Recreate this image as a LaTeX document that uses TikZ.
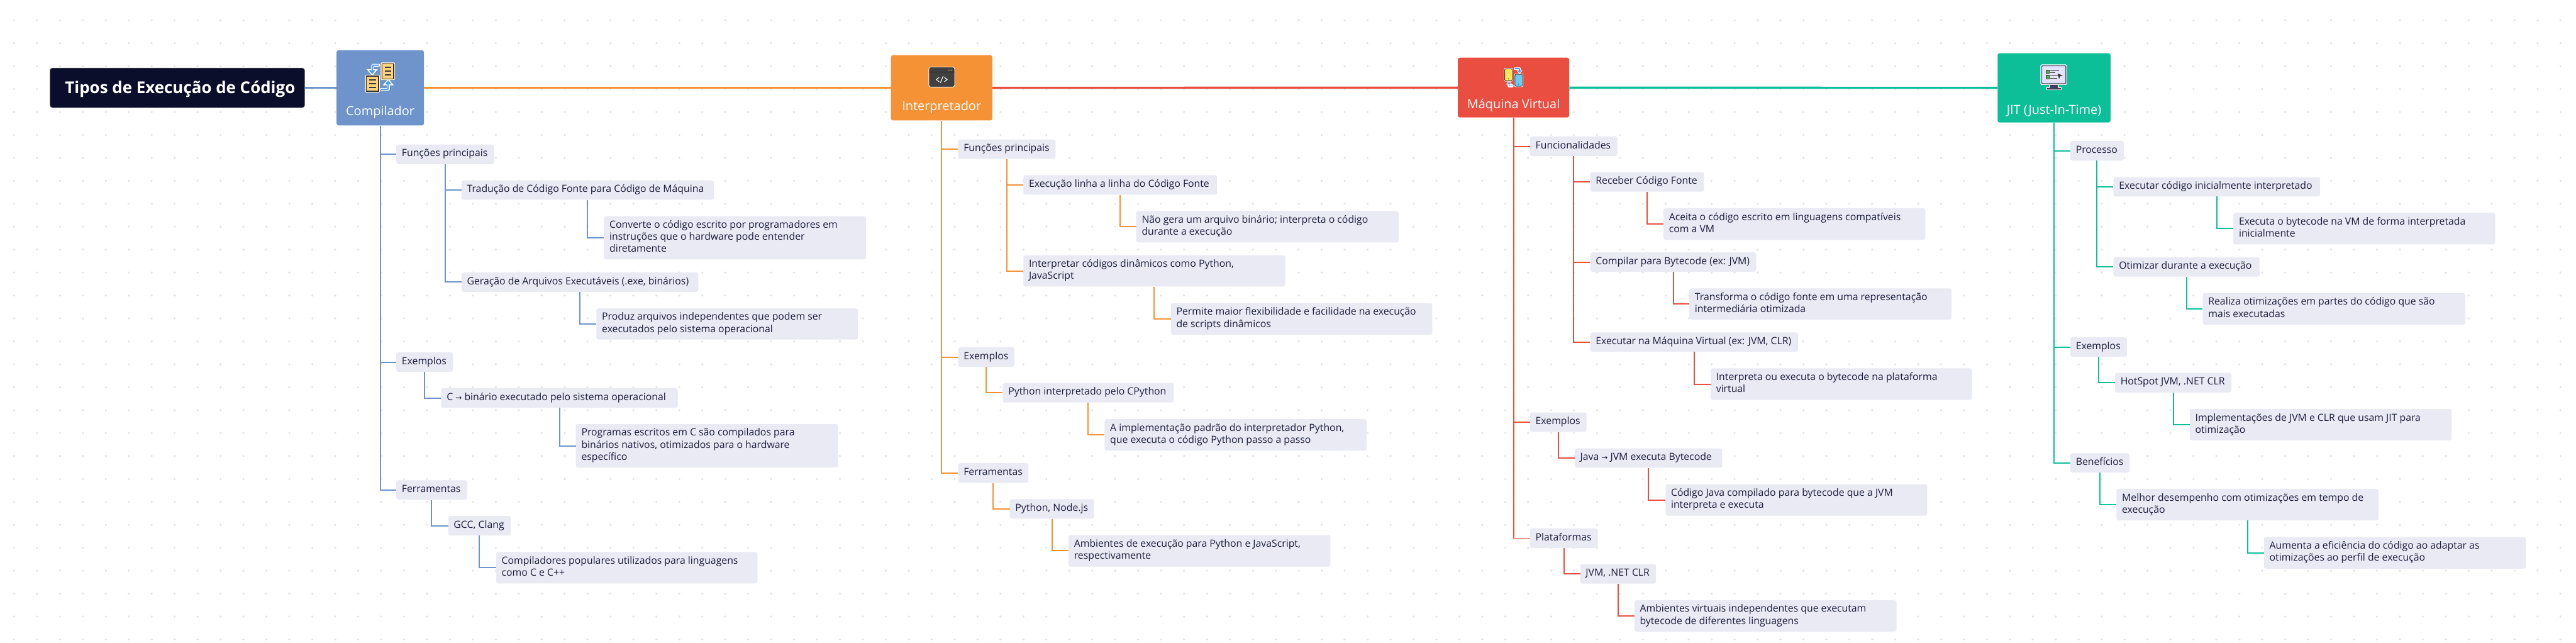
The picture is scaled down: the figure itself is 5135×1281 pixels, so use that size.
\documentclass[tikz,border=0pt]{standalone}
\usepackage{fontspec}
\setmainfont{Open Sans}
\newfontfamily\arrowfont{DejaVu Sans}
\definecolor{bluec}{HTML}{6E94CB}
\definecolor{orangec}{HTML}{F59236}
\definecolor{redc}{HTML}{E94E41}
\definecolor{greenc}{HTML}{0DBF99}
\definecolor{subc}{HTML}{E9EAF4}
\definecolor{inkc}{HTML}{1B1C3A}
\definecolor{rootc}{HTML}{0B0E2A}
\definecolor{dotc}{HTML}{E6E6E6}
\definecolor{docc}{HTML}{FDD27F}
\definecolor{icond}{HTML}{3A3431}
\definecolor{arrowc}{HTML}{4B9BF0}
\tikzset{
  x=1pt,y=-1pt,
  subnode/.style={fill=subc,rounded corners=4pt,inner xsep=11pt,inner ysep=0pt,align=flush left,text=inkc,font=\fontsize{19.8}{24}\selectfont},
  mainnode/.style={rounded corners=4pt,inner sep=0pt,text=white,align=center,font=\fontsize{25}{30}\selectfont},
  rootnode/.style={fill=rootc,draw=black!50,line width=0.8pt,rounded corners=5pt,text=white,inner sep=0pt,font=\fontsize{32.5}{38}\selectfont\bfseries},
  mainlink/.style={line width=4.2pt},
  sublink/.style={line width=2.5pt,line join=miter},
  iconline/.style={line width=1.6pt,icond},
  whiteedge/.style={white,line width=5.5pt,line join=round,line cap=round},
  blueedge/.style={arrowc,line width=2.6pt,line join=round,line cap=round},
}
\newcommand{\boxnode}[6]{%
  \pgfmathsetmacro{\bw}{#3-#2-22}\pgfmathsetmacro{\bh}{#5-#4}%
  \pgfmathsetmacro{\bx}{(#2+#3)/2}\pgfmathsetmacro{\by}{(#4+#5)/2}%
  \node[subnode,text width=\bw pt,minimum height=\bh pt] (#1) at (\bx,\by) {\rule{0pt}{16.5pt}#6\rule[-7.5pt]{0pt}{7.5pt}};}
\newcommand{\arr}{{\arrowfont\fontsize{15}{15}\selectfont →}}
\begin{document}
\begin{tikzpicture}
\path[use as bounding box,fill=white] (0,0) rectangle (5135,1281);
\foreach \i in {0,...,111} \foreach \j in {0,...,27}
  \fill[dotc] ({28+45.73*\i},{40.4+45.7*\j}) circle (2.4pt);

% root and main nodes
\node[rootnode,minimum width=508pt,minimum height=79pt,text depth=9pt,text height=31pt] (root) at (353.5,175) {\hspace*{11pt}Tipos de Execução de Código};
\node[mainnode,fill=bluec,minimum width=174pt,text height=130pt,text depth=20pt] (comp) at (758,175) {Compilador};
\node[mainnode,fill=orangec,minimum width=202pt,text height=110pt,text depth=20pt] (interp) at (1877,175) {Interpretador};
\node[mainnode,fill=redc,minimum width=222pt,text height=101pt,text depth=18pt] (maq) at (3017,174.5) {Máquina Virtual};
\node[mainnode,fill=greenc,minimum width=225pt,text height=122pt,text depth=16pt] (jit) at (4094.5,175) {JIT (Just-In-Time)};

% Compilador branch
\boxnode{c1}{790}{985}{288}{327}{\mbox{Funções principais}}
\boxnode{c11}{920}{1423}{359.5}{398}{Tradução de Código Fonte para Código de Máquina}
\boxnode{c111}{1204}{1726}{431}{517}{Converte o código escrito por programadores em\\instruções que o hardware pode entender\\diretamente}
\boxnode{c12}{920}{1392}{543}{581.5}{Geração de Arquivos Executáveis (.exe, binários)}
\boxnode{c121}{1189}{1710}{614.5}{676.5}{Produz arquivos independentes que podem ser\\executados pelo sistema operacional}
\boxnode{c2}{790}{903}{702}{741}{Exemplos}
\boxnode{c21}{879.5}{1351}{773.5}{812.5}{C \arr{} binário executado pelo sistema operacional}
\boxnode{c211}{1148}{1670.5}{845}{931.5}{Programas escritos em C são compilados para\\binários nativos, otimizados para o hardware\\específico}
\boxnode{c3}{790}{931}{957}{996}{Ferramentas}
\boxnode{c31}{893.5}{1018}{1028}{1067}{\mbox{GCC, Clang}}
\boxnode{c311}{989}{1510}{1100}{1162.5}{Compiladores populares utilizados para linguagens\\como C e C++}

% Interpretador branch
\boxnode{i1}{1910}{2104}{278}{316.5}{\mbox{Funções principais}}
\boxnode{i11}{2040}{2426}{349}{388}{Execução linha a linha do Código Fonte}
\boxnode{i111}{2265}{2788}{420.5}{483}{Não gera um arquivo binário; interpreta o código\\durante a execução}
\boxnode{i12}{2040}{2562}{508.5}{571}{Interpretar códigos dinâmicos como Python,\\JavaScript}
\boxnode{i121}{2334}{2855}{604}{667}{Permite maior flexibilidade e facilidade na execução\\de scripts dinâmicos}
\boxnode{i2}{1910}{2022}{692}{731}{Exemplos}
\boxnode{i21}{1999}{2339.5}{763}{802}{Python interpretado pelo CPython}
\boxnode{i211}{2202}{2724}{835}{898}{A implementação padrão do interpretador Python,\\que executa o código Python passo a passo}
\boxnode{i3}{1910}{2050}{923}{962}{Ferramentas}
\boxnode{i31}{2013}{2181}{994.5}{1033.5}{\mbox{Python, Node.js}}
\boxnode{i311}{2130}{2652}{1066}{1129}{Ambientes de execução para Python e JavaScript,\\respectivamente}

% Maquina Virtual branch
\boxnode{m1}{3050}{3224}{272}{311}{\mbox{Funcionalidades}}
\boxnode{m11}{3170}{3397}{343}{382}{\mbox{Receber Código Fonte}}
\boxnode{m111}{3316}{3838}{415}{478}{Aceita o código escrito em linguagens compatíveis\\com a VM}
\boxnode{m12}{3170}{3501}{503}{541.5}{\mbox{Compilar para Bytecode (ex: JVM)}}
\boxnode{m121}{3367.5}{3890}{574.5}{637}{Transforma o código fonte em uma representação\\intermediária otimizada}
\boxnode{m13}{3170}{3584}{662.5}{701}{\mbox{Executar na Máquina Virtual (ex: JVM, CLR)}}
\boxnode{m131}{3410}{3931}{734}{797}{Interpreta ou executa o bytecode na plataforma\\virtual}
\boxnode{m2}{3050}{3162.5}{822}{860.5}{Exemplos}
\boxnode{m21}{3139}{3433}{893.5}{932}{\mbox{Java \arr{} JVM executa Bytecode}}
\boxnode{m211}{3320}{3841.5}{965}{1027.5}{Código Java compilado para bytecode que a JVM\\interpreta e executa}
\boxnode{m3}{3050}{3185}{1053}{1092}{Plataformas}
\boxnode{m31}{3150}{3301}{1124}{1163}{\mbox{JVM, .NET CLR}}
\boxnode{m311}{3258}{3780.5}{1196}{1258.5}{Ambientes virtuais independentes que executam\\bytecode de diferentes linguagens}

% JIT branch
\boxnode{j1}{4127}{4233.5}{281}{320}{Processo}
\boxnode{j11}{4213}{4625}{353}{391.5}{\mbox{Executar código inicialmente interpretado}}
\boxnode{j111}{4452}{4974}{424}{487}{Executa o bytecode na VM de forma interpretada\\inicialmente}
\boxnode{j12}{4213}{4504}{512.5}{551}{\mbox{Otimizar durante a execução}}
\boxnode{j121}{4391}{4914}{584}{647}{Realiza otimizações em partes do código que são\\mais executadas}
\boxnode{j2}{4127}{4240}{672}{711}{Exemplos}
\boxnode{j21}{4216}{4448}{743}{782}{\mbox{HotSpot JVM, .NET CLR}}
\boxnode{j211}{4365}{4887}{815}{877.5}{Implementações de JVM e CLR que usam JIT para\\otimização}
\boxnode{j3}{4127}{4245}{903}{941.5}{Benefícios}
\boxnode{j31}{4219}{4741}{974}{1037}{Melhor desempenho com otimizações em tempo de\\execução}
\boxnode{j311}{4513}{5035}{1070}{1133}{Aumenta a eficiência do código ao adaptar as\\otimizações ao perfil de execução}

% main connectors
\draw[mainlink,bluec] (root.east) -- (comp.west);
\draw[mainlink,orangec] (comp.east) -- (interp.west);
\draw[mainlink,redc] (interp.east) -- (maq.west);
\draw[mainlink,greenc] (maq.east) -- (jit.west);

% sub connectors
\foreach \p/\c in {comp/c1,comp/c2,comp/c3,c1/c11,c1/c12,c11/c111,c12/c121,c2/c21,c21/c211,c3/c31,c31/c311}
  \draw[sublink,bluec] (\p.south) |- (\c.west);
\foreach \p/\c in {interp/i1,interp/i2,interp/i3,i1/i11,i1/i12,i11/i111,i12/i121,i2/i21,i21/i211,i3/i31,i31/i311}
  \draw[sublink,orangec] (\p.south) |- (\c.west);
\foreach \p/\c in {maq/m1,maq/m2,maq/m3,m1/m11,m1/m12,m1/m13,m11/m111,m12/m121,m13/m131,m2/m21,m21/m211,m3/m31,m31/m311}
  \draw[sublink,redc] (\p.south) |- (\c.west);
\foreach \p/\c in {jit/j1,jit/j2,jit/j3,j1/j11,j1/j12,j11/j111,j12/j121,j2/j21,j21/j211,j3/j31,j31/j311}
  \draw[sublink,greenc] (\p.south) |- (\c.west);

% Compilador icon
\draw[whiteedge] (755,130) -- (743,130) -- (742,141);
\fill[white] (731,138) -- (753,138) -- (742,151) -- cycle;
\draw[blueedge] (755,130) -- (743,130) -- (742,141);
\fill[arrowc] (735.5,140) -- (748.5,140) -- (742,147.5) -- cycle;
\draw[whiteedge] (760,178) -- (774,178) -- (774,167);
\fill[white] (763,170) -- (785,170) -- (774,157) -- cycle;
\draw[blueedge] (760,178) -- (774,178) -- (774,167);
\fill[arrowc] (767.5,168) -- (780.5,168) -- (774,160.5) -- cycle;
\filldraw[fill=docc,draw=white,line width=1pt,rounded corners=1.5pt] (759.5,125) rectangle (787,159);
\draw[icond,line width=1.8pt] (761.5,127) rectangle (785,157);
\filldraw[fill=docc,draw=white,line width=1pt,rounded corners=1.5pt] (728.5,149.5) rectangle (756.5,184);
\draw[icond,line width=1.8pt] (730.5,151.5) rectangle (754.5,182);
\foreach \yy in {134,141.7,149.3} \draw[iconline] (766.7,\yy) -- (780,\yy);
\foreach \yy in {159.3,166.7,174.3} \draw[iconline] (735.3,\yy) -- (749.3,\yy);

% Interpretador icon
\filldraw[fill=black!75,draw=white!90!orange,line width=1pt,rounded corners=4pt] (1851.5,133.5) rectangle (1903,173.5);
\draw[black!85,line width=1pt] (1852,143.5) -- (1902.5,143.5);
\foreach \xx in {1890.5,1893.5,1896.5} \fill[white] (\xx,139.5) circle (0.9pt);
\draw[white,line width=1.4pt] (1872,154) -- (1866.5,158.5) -- (1872,163);
\draw[white,line width=1.4pt] (1880,152) -- (1874.5,165);
\draw[white,line width=1.4pt] (1882.5,154) -- (1888,158.5) -- (1882.5,163);

% Maquina Virtual icon
\draw[whiteedge] (3020,137) -- (3029,137) -- (3029,141);
\fill[white] (3023,140) -- (3035,140) -- (3029,148) -- cycle;
\draw[blueedge,line width=2pt] (3020,137) -- (3029,137) -- (3029,141);
\fill[arrowc] (3025,140.5) -- (3033,140.5) -- (3029,145.5) -- cycle;
\draw[whiteedge] (3014.5,171) -- (3008,171) -- (3008,167);
\fill[white] (3002,168) -- (3014,168) -- (3008,161.5) -- cycle;
\draw[blueedge,line width=2pt] (3014.5,171) -- (3008,171) -- (3008,167);
\fill[arrowc] (3004,167.5) -- (3012,167.5) -- (3008,163) -- cycle;
\filldraw[fill=white,draw=none,rounded corners=3pt] (2998,135.5) rectangle (3016,162.5);
\filldraw[fill=docc!60!yellow!90!white,draw=icond,line width=1.2pt,rounded corners=2.5pt] (2999.5,137) rectangle (3014.5,161);
\fill[icond] (3007,157) circle (0.9pt);
\filldraw[fill=white,draw=none,rounded corners=3pt] (3018.5,146.5) rectangle (3036.5,173.5);
\filldraw[fill=cyan!60!white,draw=black!70,line width=1.2pt,rounded corners=2.5pt] (3020,148) rectangle (3035,172);
\fill[icond] (3027,167.5) circle (0.9pt);

% JIT icon
\filldraw[fill=white,draw=none,rounded corners=3pt] (4084.5,165) rectangle (4104,177);
\filldraw[fill=white,draw=none,rounded corners=2pt] (4078.5,173) rectangle (4110,179.5);
\fill[black!75!blue!50!gray] (4087,166) rectangle (4101.5,175);
\fill[black!80!blue!50!gray,rounded corners=1pt] (4080,175) rectangle (4108.5,178.5);
\filldraw[fill=blue!10!white,draw=white,line width=1pt,rounded corners=2.5pt] (4067.8,129) rectangle (4120,168.7);
\filldraw[fill=blue!12!white,draw=black!70!blue!30!gray,line width=1.8pt,rounded corners=1.5pt] (4070,131) rectangle (4118,167);
\fill[white!90!blue] (4075,135) rectangle (4113,160);
\filldraw[fill=green!40!gray,draw=icond,line width=0.7pt] (4078.5,139.5) rectangle (4084.5,146);
\filldraw[fill=green!40!gray,draw=icond,line width=0.7pt] (4078.5,150) rectangle (4084.5,156.5);
\draw[icond,line width=1.2pt] (4087,140.5) -- (4104,140.5);
\draw[icond,line width=1.2pt] (4087,144.5) -- (4096.5,144.5);
\draw[icond,line width=1.2pt] (4087,151) -- (4102,151);
\draw[icond,line width=1.2pt] (4087,155.5) -- (4100.5,155.5);
\fill[icond] (4101.5,146.5) -- (4112,150.5) -- (4106.5,152) -- (4104.5,157.5) -- cycle;
\end{tikzpicture}
\end{document}
